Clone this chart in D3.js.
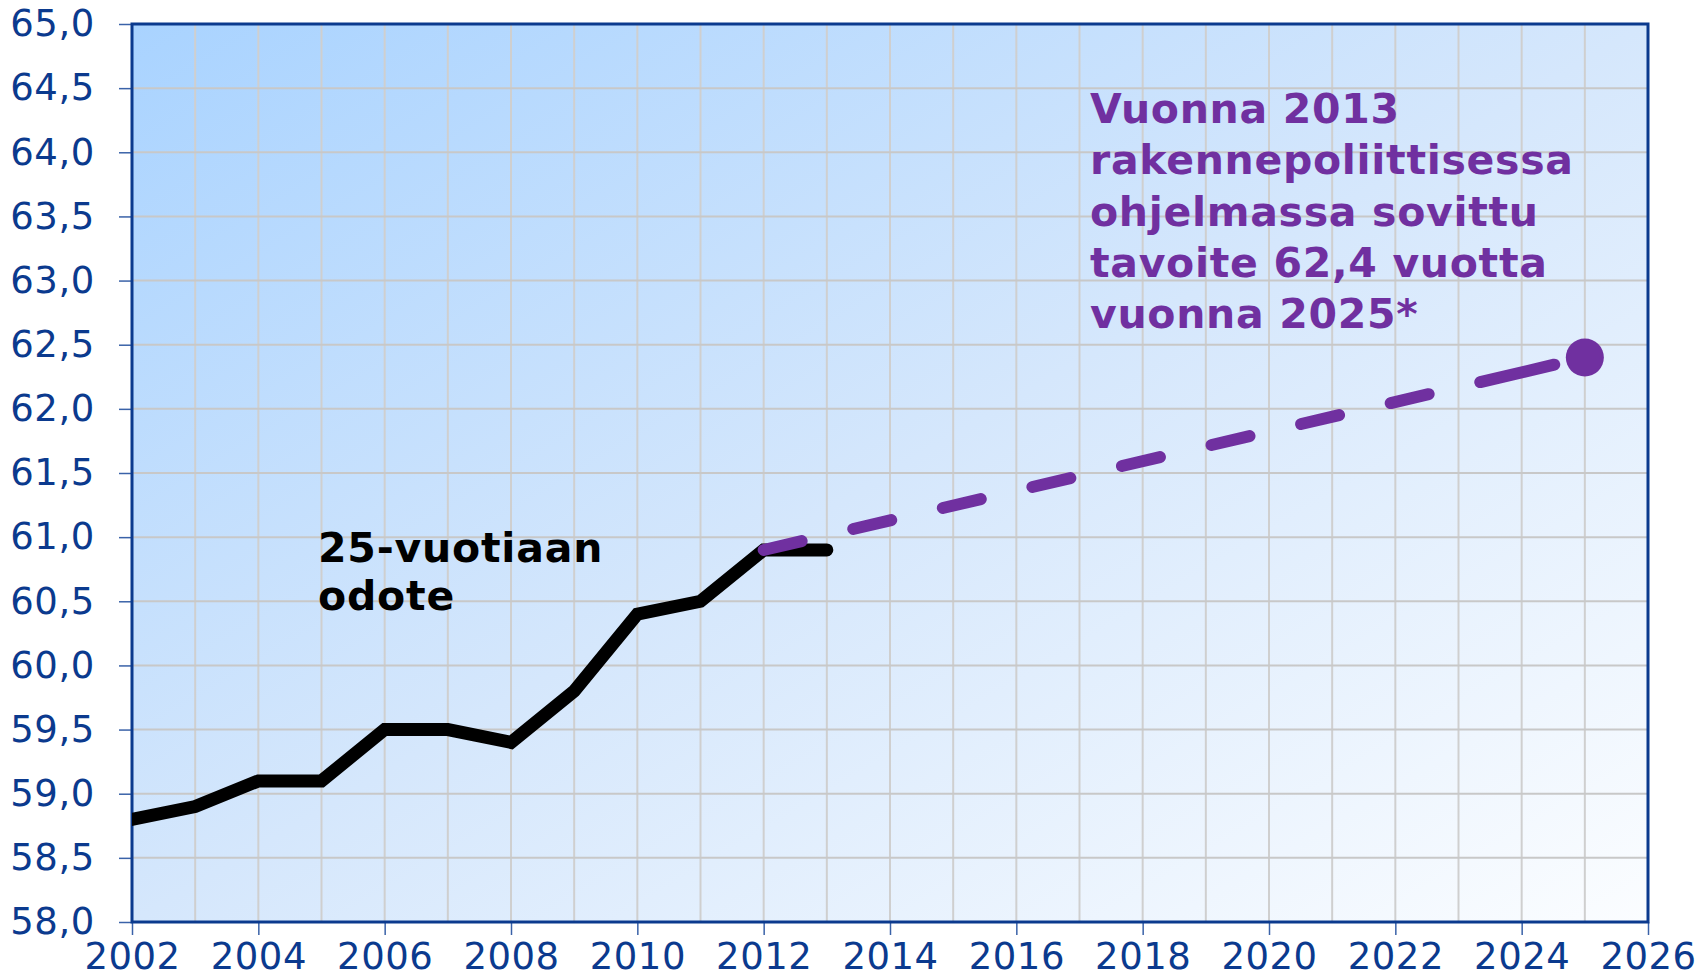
<!DOCTYPE html>
<html>
<head>
<meta charset="utf-8">
<script src="https://cdn.jsdelivr.net/npm/d3@7"></script>
<style>
  body { margin: 0; background: #fff; }
  svg { display: block; font-family: "DejaVu Sans", Verdana, sans-serif; }
</style>
</head>
<body>
<svg id="chart" width="1706" height="978"></svg>
<script>
// data
var years = [2002, 2003, 2004, 2005, 2006, 2007, 2008, 2009, 2010, 2011, 2012, 2013];
var odote = [58.8, 58.9, 59.1, 59.1, 59.5, 59.5, 59.4, 59.8, 60.4, 60.5, 60.9, 60.9];
var targetYears = [2012, 2025];
var targetValues = [60.9, 62.4];
var yTicks = [58, 58.5, 59, 59.5, 60, 60.5, 61, 61.5, 62, 62.5, 63, 63.5, 64, 64.5, 65];
var xTicks = [2002, 2004, 2006, 2008, 2010, 2012, 2014, 2016, 2018, 2020, 2022, 2024, 2026];
var labelBlack = ['25-vuotiaan', 'odote'];
var labelPurple = ['Vuonna 2013', 'rakennepoliittisessa', 'ohjelmassa sovittu', 'tavoite 62,4 vuotta', 'vuonna 2025*'];

var axisColor = '#0b3a8e';
var purple = '#7030a0';

var svg = d3.select('#chart');
var m = { left: 132, right: 1648, top: 24, bottom: 922 };

var x = d3.scaleLinear().domain([2002, 2026]).range([m.left, m.right]);
var y = d3.scaleLinear().domain([58, 65]).range([m.bottom, m.top]);

// background gradient
var defs = svg.append('defs');
var grad = defs.append('linearGradient')
  .attr('id', 'bg')
  .attr('x1', '0%').attr('y1', '0%')
  .attr('x2', '100%').attr('y2', '100%');
grad.append('stop').attr('offset', '0%').attr('stop-color', '#a9d3ff');
grad.append('stop').attr('offset', '50%').attr('stop-color', '#d5e7fc');
grad.append('stop').attr('offset', '100%').attr('stop-color', '#fbfdff');

defs.append('clipPath').attr('id', 'plotClip')
  .append('rect')
  .attr('x', m.left).attr('y', m.top)
  .attr('width', m.right - m.left).attr('height', m.bottom - m.top);

svg.append('rect')
  .attr('x', m.left).attr('y', m.top)
  .attr('width', m.right - m.left).attr('height', m.bottom - m.top)
  .attr('fill', 'url(#bg)');

// grid
svg.append('g').selectAll('line')
  .data(d3.range(2003, 2026))
  .enter().append('line')
  .attr('x1', function (d) { return x(d); })
  .attr('x2', function (d) { return x(d); })
  .attr('y1', m.top).attr('y2', m.bottom)
  .attr('stroke', '#cfcfcf').attr('stroke-width', 2);

svg.append('g').selectAll('line')
  .data(yTicks.slice(1, -1))
  .enter().append('line')
  .attr('x1', m.left).attr('x2', m.right)
  .attr('y1', function (d) { return y(d); })
  .attr('y2', function (d) { return y(d); })
  .attr('stroke', '#c8c8c8').attr('stroke-width', 2);

// axes
var yAxis = d3.axisLeft(y)
  .tickValues(yTicks)
  .tickSize(13)
  .tickPadding(24)
  .tickFormat(function (d) { return d3.format('.1f')(d).replace('.', ','); });

var gy = svg.append('g')
  .attr('transform', 'translate(' + m.left + ',0)')
  .call(yAxis);
gy.select('.domain').remove();
gy.selectAll('.tick line').attr('stroke', '#3a62a8').attr('stroke-width', 1.5);
gy.selectAll('.tick text')
  .attr('fill', axisColor)
  .style('font-size', '37px')
  .style('letter-spacing', '0.6px')
  .style('font-family', '"DejaVu Sans", Verdana, sans-serif');

var xAxis = d3.axisBottom(x)
  .tickValues(xTicks)
  .tickSize(13)
  .tickPadding(8)
  .tickFormat(d3.format('d'));

var gx = svg.append('g')
  .attr('transform', 'translate(0,' + m.bottom + ')')
  .call(xAxis);
gx.select('.domain').remove();
gx.selectAll('.tick line').attr('stroke', '#3a62a8').attr('stroke-width', 1.5);
gx.selectAll('.tick text')
  .attr('fill', axisColor)
  .style('font-size', '37px')
  .style('letter-spacing', '0.5px')
  .style('font-family', '"DejaVu Sans", Verdana, sans-serif');

// plot border
svg.append('rect')
  .attr('x', m.left).attr('y', m.top)
  .attr('width', m.right - m.left).attr('height', m.bottom - m.top)
  .attr('fill', 'none')
  .attr('stroke', axisColor).attr('stroke-width', 3);

var plot = svg.append('g').attr('clip-path', 'url(#plotClip)');

// black series
var line = d3.line()
  .x(function (d) { return x(d[0]); })
  .y(function (d) { return y(d[1]); });

plot.append('path')
  .datum(d3.zip(years, odote))
  .attr('d', line)
  .attr('fill', 'none')
  .attr('stroke', '#000')
  .attr('stroke-width', 13)
  .attr('stroke-linejoin', 'miter')
  .attr('stroke-linecap', 'round');

// purple target, the last dash runs longer up to the marker
var dashes = d3.range(8).map(function () { return '39,53'; }).join(',') + ',76,200';
plot.append('path')
  .datum(d3.zip(targetYears, targetValues))
  .attr('d', line)
  .attr('fill', 'none')
  .attr('stroke', purple)
  .attr('stroke-width', 12)
  .attr('stroke-linecap', 'round')
  .attr('stroke-dasharray', dashes);

plot.append('circle')
  .attr('cx', x(targetYears[1]))
  .attr('cy', y(targetValues[1]))
  .attr('r', 19)
  .attr('fill', purple);

// annotations
svg.append('text')
  .attr('x', 318).attr('y', 562)
  .attr('font-weight', 'bold')
  .attr('font-size', 41)
  .attr('letter-spacing', 0.8)
  .attr('fill', '#000')
  .selectAll('tspan')
  .data(labelBlack)
  .enter().append('tspan')
  .attr('x', 318)
  .attr('dy', function (d, i) { return i ? 48 : 0; })
  .text(function (d) { return d; });

svg.append('text')
  .attr('x', 1090).attr('y', 123)
  .attr('font-weight', 'bold')
  .attr('font-size', 41)
  .attr('letter-spacing', 0.7)
  .attr('fill', purple)
  .selectAll('tspan')
  .data(labelPurple)
  .enter().append('tspan')
  .attr('x', 1090)
  .attr('dy', function (d, i) { return i ? 51.25 : 0; })
  .text(function (d) { return d; });
</script>
</body>
</html>
